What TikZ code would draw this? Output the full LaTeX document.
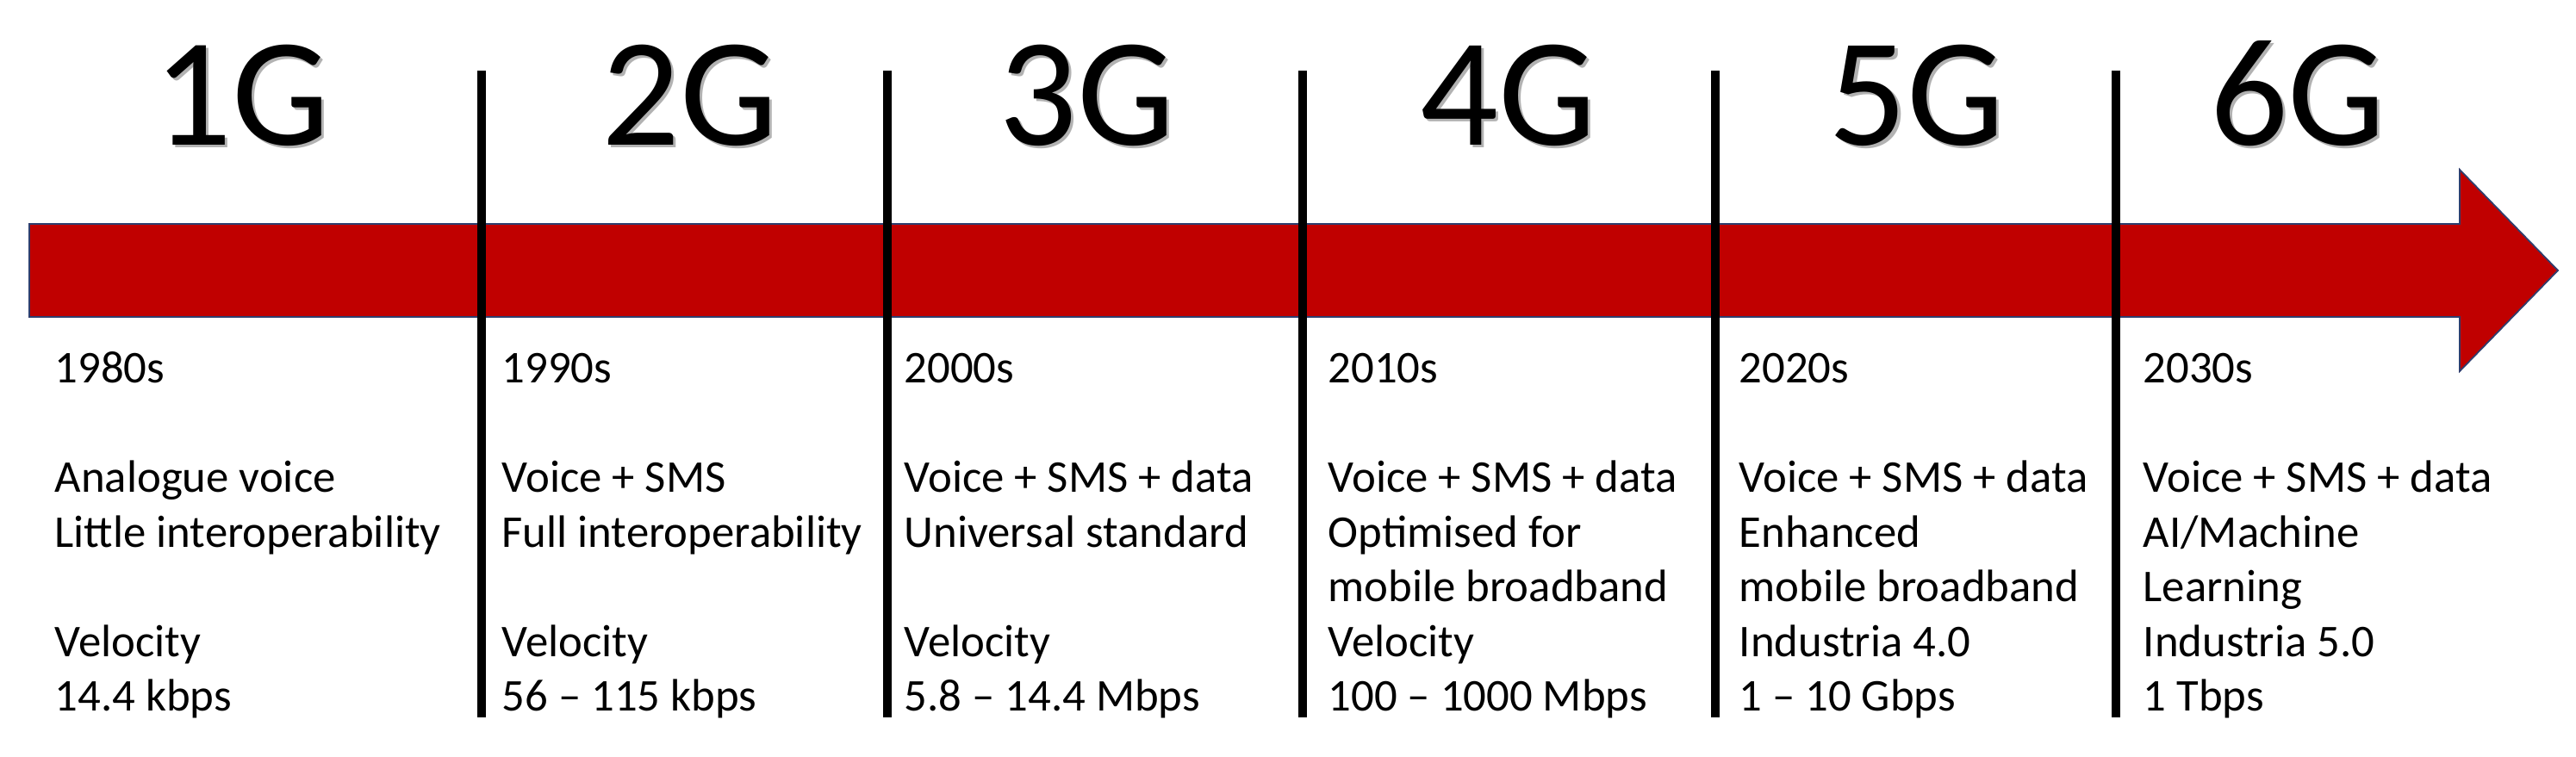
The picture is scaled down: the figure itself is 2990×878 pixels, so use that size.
\documentclass[tikz,border=0pt]{standalone}
\usepackage{fontspec}
\setmainfont{Carlito}
\definecolor{arrowred}{HTML}{C00000}
\definecolor{arrowedge}{HTML}{2E3E6E}
\begin{document}
\begin{tikzpicture}[x=0.01cm,y=-0.01cm,
  gen/.style={font=\fontsize{51}{56}\selectfont, anchor=base, inner sep=0},
  genshadow/.style={gen, text=black!30},
  info/.style={font=\fontsize{15}{18}\selectfont, anchor=base west, inner sep=0},
  divider/.style={line width=0.1cm, black}]
\useasboundingbox (0,0) rectangle (2990,878);
% arrow
\filldraw[fill=arrowred, draw=arrowedge, line width=0.5pt]
  (34,260) -- (2855,260) -- (2855,197) -- (2969,314) -- (2855,431) -- (2855,368) -- (34,368) -- cycle;
% dividers
\foreach \x [count=\i] in {559,1030,1512,1991,2456} {
  \coordinate (t\i) at (\x,82);
  \coordinate (b\i) at (\x,833);
  \draw[divider] (t\i) -- (b\i);
}
% generation labels (with soft shadow)
\foreach \x/\t [count=\i] in {281/1G,801/2G,1262/3G,1751/4G,2225/5G,2667/6G} {
  \node[genshadow] (s\i) at (\x+3,171) {\t};
  \node[gen] (g\i) at (\x,168) {\t};
}
% column 1
\node[info] (a0) at (63,444) {1980s};
\node[info] (a2) at (63,571) {Analogue voice};
\node[info] (a3) at (63,635) {Little interoperability};
\node[info] (a5) at (63,762) {Velocity};
\node[info] (a6) at (63,825) {14.4 kbps};
% column 2
\node[info] (b0) at (582,444) {1990s};
\node[info] (b2) at (582,571) {Voice + SMS};
\node[info] (b3) at (582,635) {Full interoperability};
\node[info] (b5) at (582,762) {Velocity};
\node[info] (b6) at (582,825) {56 – 115 kbps};
% column 3
\node[info] (c0) at (1049,444) {2000s};
\node[info] (c2) at (1049,571) {Voice + SMS + data};
\node[info] (c3) at (1049,635) {Universal standard};
\node[info] (c5) at (1049,762) {Velocity};
\node[info] (c6) at (1049,825) {5.8 – 14.4 Mbps};
% column 4
\node[info] (d0) at (1541,444) {2010s};
\node[info] (d2) at (1541,571) {Voice + SMS + data};
\node[info] (d3) at (1541,635) {Optimised for};
\node[info] (d4) at (1541,698) {mobile broadband};
\node[info] (d5) at (1541,762) {Velocity};
\node[info] (d6) at (1541,825) {100 – 1000 Mbps};
% column 5
\node[info] (e0) at (2018,444) {2020s};
\node[info] (e2) at (2018,571) {Voice + SMS + data};
\node[info] (e3) at (2018,635) {Enhanced};
\node[info] (e4) at (2018,698) {mobile broadband};
\node[info] (e5) at (2018,762) {Industria 4.0};
\node[info] (e6) at (2018,825) {1 – 10 Gbps};
% column 6
\node[info] (f0) at (2487,444) {2030s};
\node[info] (f2) at (2487,571) {Voice + SMS + data};
\node[info] (f3) at (2487,635) {AI/Machine};
\node[info] (f4) at (2487,698) {Learning};
\node[info] (f5) at (2487,762) {Industria 5.0};
\node[info] (f6) at (2487,825) {1 Tbps};
\end{tikzpicture}
\end{document}
